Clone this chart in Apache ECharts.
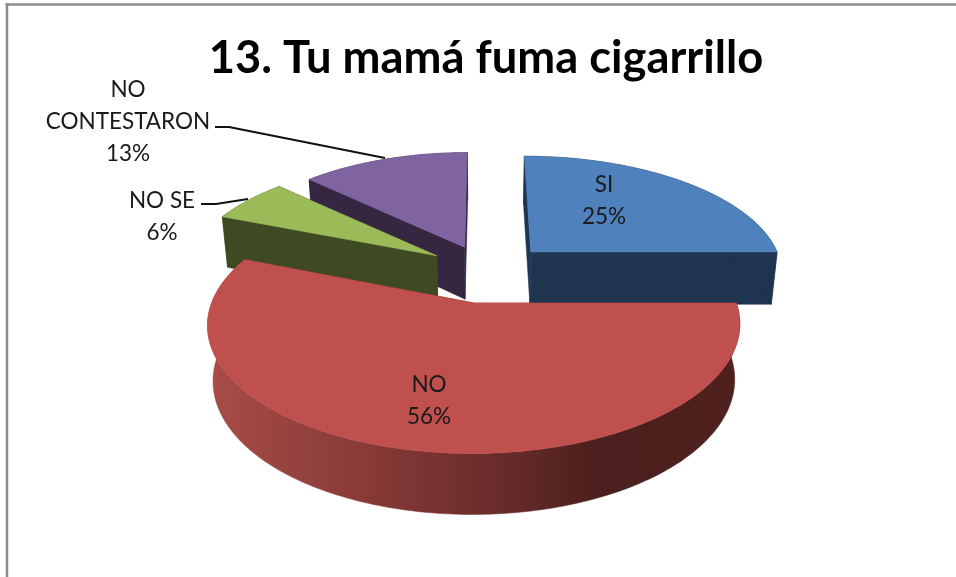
<!DOCTYPE html>
<html>
<head>
<meta charset="utf-8">
<style>html,body{margin:0;padding:0;background:#fff}#c{width:956px;height:577px}</style>
<script src="https://cdn.jsdelivr.net/npm/echarts@6/dist/echarts.min.js"></script>
</head>
<body>
<div id="c"></div>
<script>
// Data
var categories = ['SI', 'NO', 'NO SE', 'NO\nCONTESTARON'];
var values = [25, 56, 6, 13];
var chartTitle = '13. Tu mamá fuma cigarrillo';

// Style / layout
var topColors = ['#4f81bd', '#c0504d', '#9bbb59', '#8064a2'];
var wallColors = ['#1f344e', '#5a2523', '#3e4a22', '#352641'];
var explodeU = [0.19, -0.038, -0.19, -0.079];
var explodeV = [-0.14, 0.286, -0.107, -0.184];
var radiusU = [1, 0.992, 1, 0.98];
var radiusV = [1, 0.975, 1, 1];
var drawOrder = [3, 0, 2, 1];
var labelX = [604, 429, 162, 128];
var labelY = [200.5, 400.5, 216.5, 121.5];
var leaders = [null, null, [[201, 204], [216, 204], [248, 199]], [[215, 127], [229, 127], [385, 158]]];
var cx = 484, cy = 268, Rx = 252, Ry = 116.5, persp = 0.165, depth = 53, baseShrink = 0.98;

var total = values.reduce(function (a, b) { return a + b; }, 0);
var starts = [], acc = 0;
values.forEach(function (v) { starts.push(acc / total * 2 * Math.PI); acc += v; });

function project(u, v, low) {
  var f = 1 / (1 - persp * v);
  var x = cx + Rx * u * f, y = cy + Ry * v * f;
  if (low) {
    x = cx + (x - cx) * baseShrink;
    y = y + depth * Math.pow(f, 0.6);
  }
  return [x, y];
}
function rim(i, low) {
  var a0 = starts[i], a1 = a0 + values[i] / total * 2 * Math.PI, pts = [];
  var n = Math.max(4, Math.round((a1 - a0) * 60));
  for (var k = 0; k <= n; k++) {
    var a = a0 + (a1 - a0) * k / n;
    pts.push(project(explodeU[i] + radiusU[i] * Math.sin(a), explodeV[i] - radiusV[i] * Math.cos(a), low));
  }
  return pts;
}
function poly(points, fill) {
  return { type: 'polygon', shape: { points: points }, style: { fill: fill, stroke: fill, lineWidth: 0.5 } };
}
function renderSlice(params) {
  var i = drawOrder[params.dataIndex];
  var top = rim(i, false), low = rim(i, true);
  var a = project(explodeU[i], explodeV[i], false), b = project(explodeU[i], explodeV[i], true);
  var wall = wallColors[i];
  var rimFill = wall;
  if (i === 1) {
    rimFill = new echarts.graphic.LinearGradient(0, 0, 1, 0, [
      { offset: 0, color: '#a94c48' },
      { offset: 0.3, color: '#873a37' },
      { offset: 0.55, color: '#682c2a' },
      { offset: 0.74, color: '#4a1f1d' },
      { offset: 1, color: '#4f201e' }
    ]);
  }
  var ch = [];
  ch.push(poly([a, top[0], low[0], b], wall));
  ch.push(poly([a, top[top.length - 1], low[low.length - 1], b], wall));
  ch.push(poly(top.concat(low.slice().reverse()), rimFill));
  ch.push(poly([a].concat(top), topColors[i]));
  return { type: 'group', children: ch };
}
function renderLabel(params) {
  var i = params.dataIndex, ch = [];
  if (leaders[i]) {
    ch.push({ type: 'polyline', shape: { points: leaders[i] }, style: { stroke: '#111', lineWidth: 2, fill: null } });
  }
  ch.push({
    type: 'text',
    style: {
      text: categories[i] + '\n' + values[i] + '%',
      x: labelX[i], y: labelY[i], align: 'center', verticalAlign: 'middle',
      font: '22.5px Lato', lineHeight: 32, fill: '#1a1a1a'
    }
  });
  return { type: 'group', children: ch };
}

var chart = echarts.init(document.getElementById('c'), null, { renderer: 'canvas' });
chart.setOption({
  animation: false,
  backgroundColor: '#fff',
  title: {
    text: chartTitle, left: 481, top: 31, textAlign: 'center',
    textStyle: { fontFamily: 'Lato', fontWeight: 'bold', fontSize: 45.3, color: '#000' }
  },
  graphic: [
    { type: 'line', shape: { x1: 5.5, y1: 4.5, x2: 956, y2: 4.5 }, style: { stroke: '#8c8c8c', lineWidth: 2.5 } },
    { type: 'line', shape: { x1: 7, y1: 3, x2: 7, y2: 577 }, style: { stroke: '#8c8c8c', lineWidth: 2.5 } }
  ],
  series: [
    { type: 'custom', coordinateSystem: 'none', renderItem: renderSlice, data: drawOrder.map(function (i) { return values[i]; }), silent: true },
    { type: 'custom', coordinateSystem: 'none', renderItem: renderLabel, data: values, silent: true, z: 5 }
  ]
});
</script>
</body>
</html>
